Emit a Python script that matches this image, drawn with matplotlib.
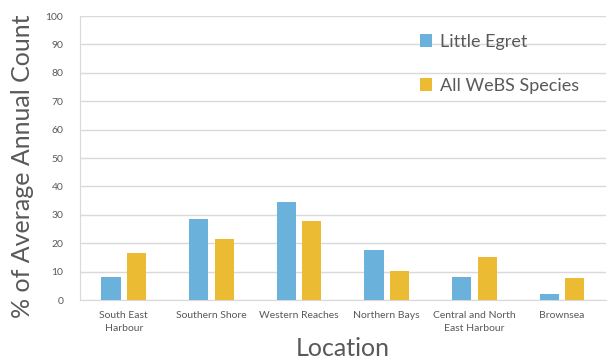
import numpy as np
import matplotlib.pyplot as plt

locations = ["South East\nHarbour", "Southern Shore", "Western Reaches",
             "Northern Bays", "Central and North\nEast Harbour", "Brownsea"]
little_egret = [8.2, 28.4, 34.5, 17.5, 8.1, 2.1]
all_webs = [16.7, 21.5, 28.0, 10.2, 15.0, 7.7]
series_names = ["Little Egret", "All WeBS Species"]
yticks = list(range(0, 101, 10))

BLUE = "#6AB1DC"
GOLD = "#EBBC33"
TEXT = "#595959"
GRID = "#D9D9D9"

plt.rcParams['font.family'] = ['Lato', 'DejaVu Sans']

fig = plt.figure(figsize=(6.08, 3.58), dpi=100)
ax = fig.add_axes([0.1316, 0.162, 0.865, 0.793])

x = np.arange(len(locations))
w = 0.22
ax.bar(x - 0.145, little_egret, w, color=BLUE, label=series_names[0], zorder=3)
ax.bar(x + 0.145, all_webs, w, color=GOLD, label=series_names[1], zorder=3)

ax.set_xlim(-0.5, len(locations) - 0.5)
ax.set_ylim(0, 100)
ax.set_yticks(yticks)
ax.yaxis.grid(True, color=GRID, lw=1, zorder=0)
ax.set_xticks(x)
ax.set_xticklabels(locations, fontsize=7.5, color=TEXT, linespacing=1.55)
ax.tick_params(axis='y', labelsize=7.5, labelcolor=TEXT, length=0, pad=12)
ax.tick_params(axis='x', length=0, pad=8)

for side in ['top', 'right']:
    ax.spines[side].set_visible(False)
for side in ['left', 'bottom']:
    ax.spines[side].set_color(GRID)

# axis titles placed in figure coords to match the original layout
fig.text(23 / 608, 1 - 166 / 358, "% of Average Annual Count", rotation=90,
         ha='center', va='center', fontsize=18, color=TEXT)
fig.text(343 / 608, 1 - 348 / 358, "Location", ha='center', va='center',
         fontsize=18, color=TEXT)

leg = ax.legend(loc='upper left', bbox_to_anchor=(0.615, 0.995), frameon=False,
                fontsize=13, labelspacing=1.55, handlelength=0.7,
                handleheight=0.7, handletextpad=0.4, labelcolor=TEXT)

fig.savefig("out.png", dpi=100)
